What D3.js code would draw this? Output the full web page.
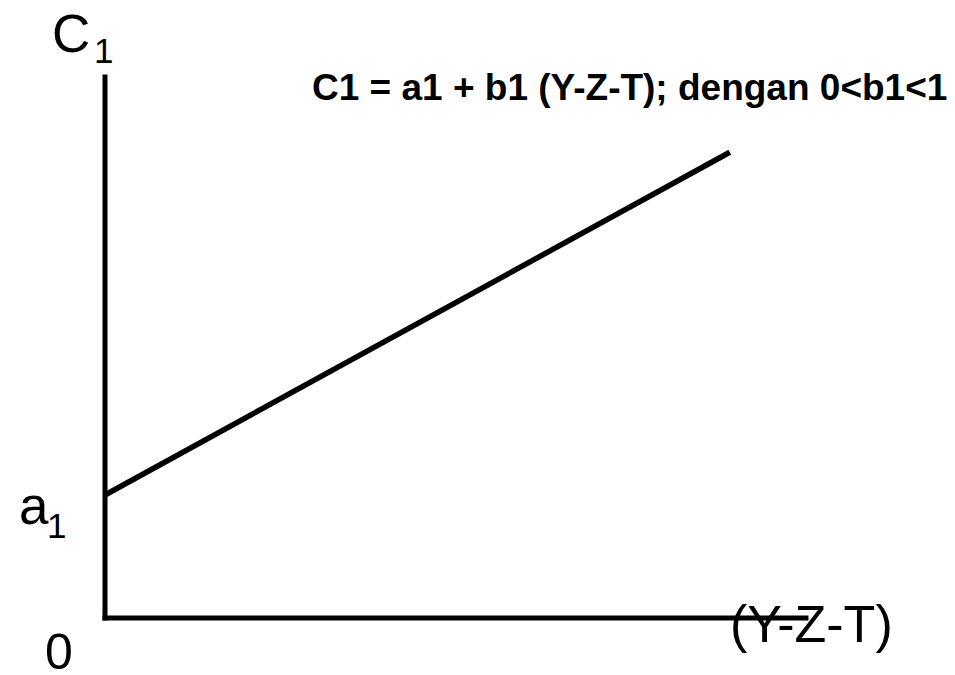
<!DOCTYPE html>
<html>
<head>
<meta charset="utf-8">
<script src="https://cdn.jsdelivr.net/npm/d3@7"></script>
<style>
  html, body { margin: 0; padding: 0; background: #fff; }
  svg { display: block; font-family: "Liberation Sans", Arial, sans-serif; }
</style>
</head>
<body>
<svg id="chart" width="955" height="675"></svg>
<script>
// Données de la fonction de consommation (unités arbitraires, axe 0..100)
const disposableIncome = [0, 89.2];     // (Y-Z-T)
const consumption = [22.6, 86.0];       // C1
const autonomous = 22.6;                // a1
const title = "C1 = a1 + b1 (Y-Z-T); dengan 0<b1<1";

const svg = d3.select("#chart");

// Échelles
const x = d3.scaleLinear().domain([0, 100]).range([104.5, 805.5]);
const y = d3.scaleLinear().domain([0, 100]).range([617.5, 76.5]);

// Axe X (sans graduations)
svg.append("g")
    .attr("transform", `translate(0,${y(0)})`)
    .call(d3.axisBottom(x).tickValues([]).tickSizeOuter(0))
    .call(g => g.select(".domain")
        .attr("stroke", "#000")
        .attr("stroke-width", 5)
        .attr("stroke-linecap", "square"));

// Axe Y (sans graduations)
svg.append("g")
    .attr("transform", `translate(${x(0)},0)`)
    .call(d3.axisLeft(y).tickValues([]).tickSizeOuter(0))
    .call(g => g.select(".domain")
        .attr("stroke", "#000")
        .attr("stroke-width", 5)
        .attr("stroke-linecap", "square"));

// Droite de consommation
const pts = disposableIncome.map((d, i) => [d, consumption[i]]);
svg.append("path")
    .datum(pts)
    .attr("fill", "none")
    .attr("stroke", "#000")
    .attr("stroke-width", 5.5)
    .attr("d", d3.line().x(d => x(d[0])).y(d => y(d[1])));

// Titre (équation)
svg.append("text")
    .attr("x", 312)
    .attr("y", 100)
    .style("font-size", "37px")
    .style("font-weight", "bold")
    .text(title);

// Label C1
const c1 = svg.append("text").attr("x", 52).attr("y", 52).style("font-size", "53px");
c1.append("tspan").text("C");
c1.append("tspan").attr("x", 94).attr("y", 63).style("font-size", "35px").text("1");

// Label a1
const a1 = svg.append("text").attr("x", 19).attr("y", y(autonomous) + 29).style("font-size", "53px");
a1.append("tspan").text("a");
a1.append("tspan").attr("x", 47).attr("y", y(autonomous) + 43).style("font-size", "35px").text("1");

// Origine
svg.append("text")
    .attr("x", 45)
    .attr("y", 669)
    .style("font-size", "50px")
    .text("0");

// Label axe X
svg.append("text")
    .attr("x", 730)
    .attr("y", 642)
    .style("font-size", "52px")
    .text("(Y-Z-T)");
</script>
</body>
</html>
